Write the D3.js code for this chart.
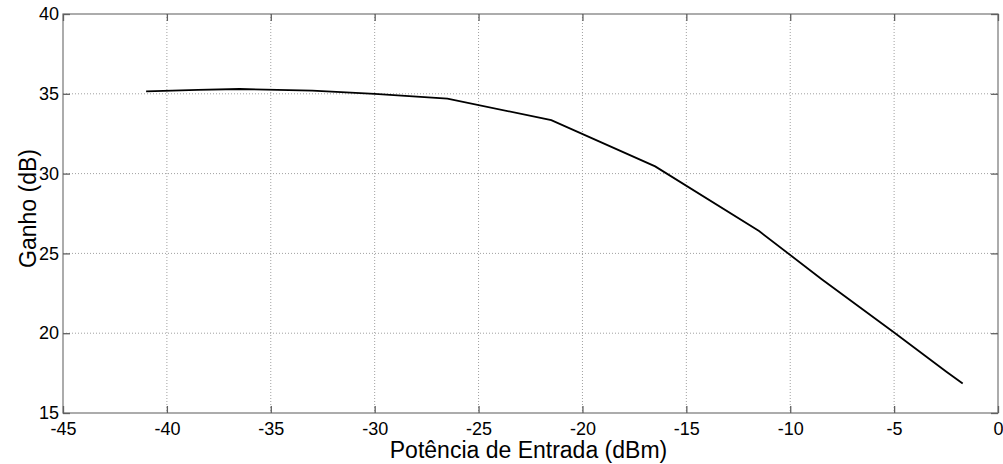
<!DOCTYPE html>
<html>
<head>
<meta charset="utf-8">
<script src="https://cdn.jsdelivr.net/npm/d3@7"></script>
<style>
    body { margin: 0; background: #fff; }
    text { font-family: "Liberation Sans", Arial, sans-serif; fill: #000; }
</style>
</head>
<body>
<div id="chart"></div>
<script>
// input power (dBm) vs gain (dB)
let inputPower = [-41, -38.5, -36.5, -33, -30, -26.5, -21.5, -16.5, -11.5, -8.5, -5, -2.5, -1.7];
let gain = [35.15, 35.25, 35.3, 35.2, 35.0, 34.7, 33.35, 30.45, 26.4, 23.4, 20.05, 17.6, 16.85];
let xTicks = [-45, -40, -35, -30, -25, -20, -15, -10, -5, 0];
let yTicks = [15, 20, 25, 30, 35, 40];

let margin = { top: 14, right: 5, bottom: 51, left: 63 };
let width = 1003 - margin.left - margin.right;
let height = 464 - margin.top - margin.bottom;

let svg = d3.select("#chart").append("svg")
    .attr("width", 1003)
    .attr("height", 464)
    .append("g")
    .attr("transform", "translate(" + margin.left + "," + margin.top + ")");

let x = d3.scaleLinear().domain([-45, 0]).range([0, width]);
let y = d3.scaleLinear().domain([15, 40]).range([height, 0]);

// grid
svg.append("g").selectAll("line").data(xTicks.slice(1, -1)).enter().append("line")
    .attr("x1", d => x(d)).attr("x2", d => x(d))
    .attr("y1", 0).attr("y2", height)
    .style("stroke", "#a0a0a0").style("stroke-dasharray", "1,2");
svg.append("g").selectAll("line").data(yTicks.slice(1, -1)).enter().append("line")
    .attr("x1", 0).attr("x2", width)
    .attr("y1", d => y(d)).attr("y2", d => y(d))
    .style("stroke", "#a0a0a0").style("stroke-dasharray", "1,2");

// box
svg.append("rect")
    .attr("width", width).attr("height", height)
    .style("fill", "none").style("stroke", "#808080").style("stroke-width", 1.3);

// axes (ticks inward), plain hyphen for negatives
let fmt = d => String(d);
let xAxis = d3.axisBottom(x).tickValues(xTicks).tickFormat(fmt).tickSizeInner(-7).tickSizeOuter(0).tickPadding(9);
let yAxis = d3.axisLeft(y).tickValues(yTicks).tickFormat(fmt).tickSizeInner(-7).tickSizeOuter(0).tickPadding(4);
let xTop = d3.axisTop(x).tickValues(xTicks).tickSizeInner(-7).tickSizeOuter(0).tickFormat("");
let yRight = d3.axisRight(y).tickValues(yTicks).tickSizeInner(-7).tickSizeOuter(0).tickFormat("");

svg.append("g").attr("class", "axis").attr("transform", "translate(0," + height + ")").call(xAxis);
svg.append("g").attr("class", "axis").call(yAxis);
svg.append("g").attr("class", "axis").call(xTop);
svg.append("g").attr("class", "axis").attr("transform", "translate(" + width + ",0)").call(yRight);

svg.selectAll(".axis .domain").remove();
svg.selectAll(".axis line").style("stroke", "#606060").style("stroke-width", 1.3);
svg.selectAll(".axis text")
    .style("font-size", "18px")
    .style("font-family", "'Liberation Sans', Arial, sans-serif")
    .attr("fill", "#000");

// line
let line = d3.line()
    .x((d, i) => x(inputPower[i]))
    .y(d => y(d));

svg.append("path")
    .datum(gain)
    .attr("d", line)
    .style("fill", "none")
    .style("stroke", "#000")
    .style("stroke-width", 1.8);

// labels
svg.append("text")
    .attr("x", x(-22.5) - 2)
    .attr("y", height + 45)
    .attr("text-anchor", "middle")
    .style("font-size", "23px")
    .text("Potência de Entrada (dBm)");

svg.append("text")
    .attr("transform", "translate(" + (-27) + "," + (y(27.5) - 5) + ") rotate(-90)")
    .attr("text-anchor", "middle")
    .style("font-size", "23px")
    .text("Ganho (dB)");
</script>
</body>
</html>
